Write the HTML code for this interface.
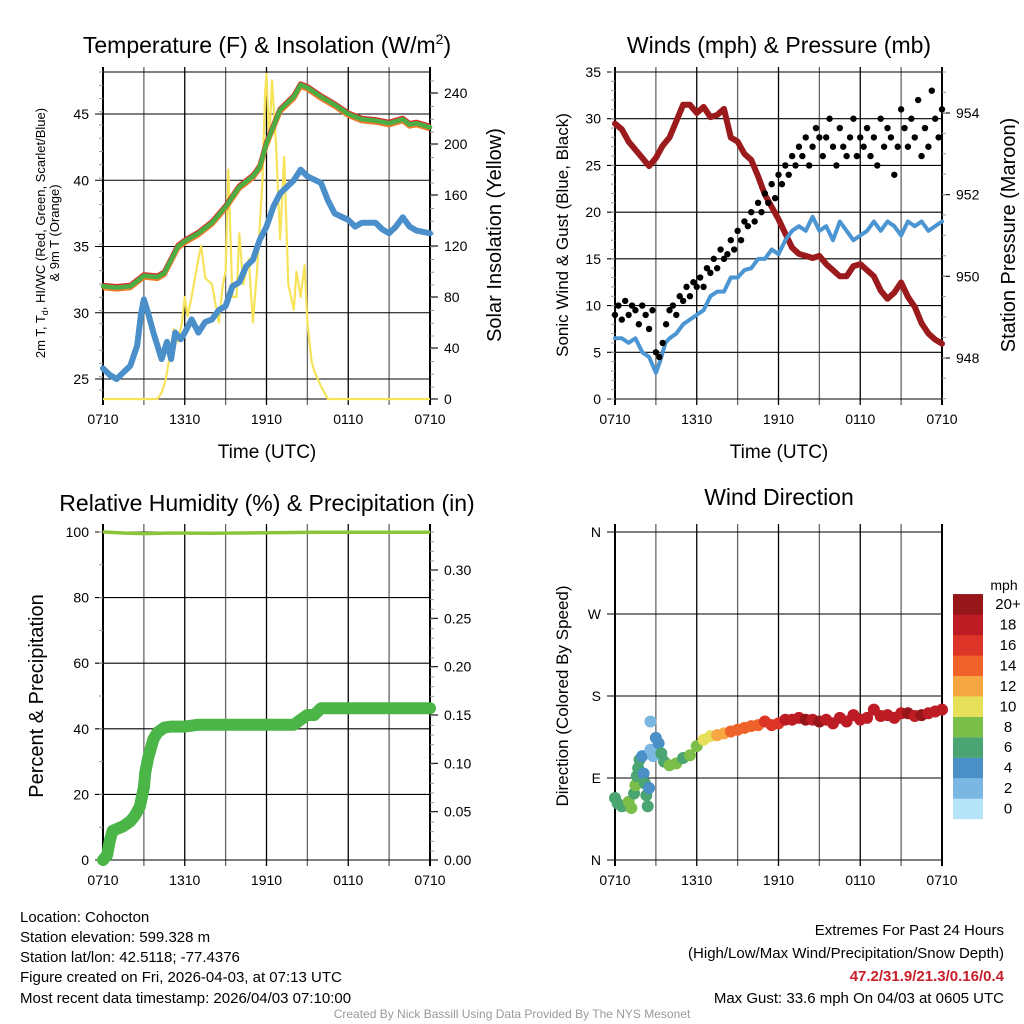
<!DOCTYPE html>
<html><head><meta charset="utf-8">
<style>
body{margin:0;background:#fff;}
svg{display:block;font-family:"Liberation Sans",Arial,sans-serif;}
</style></head>
<body>
<svg id="fig" width="1024" height="1024" viewBox="0 0 1024 1024" xmlns="http://www.w3.org/2000/svg">
<rect width="1024" height="1024" fill="#fff"/>
<g id="texts" font-size="15" fill="#000">
<text x="267" y="53" font-size="23" text-anchor="middle">Temperature (F) &amp; Insolation (W/m<tspan font-size="14" dy="-9">2</tspan><tspan dy="9">)</tspan></text>
<text x="779" y="53" font-size="23" text-anchor="middle">Winds (mph) &amp; Pressure (mb)</text>
<text x="267" y="511" font-size="23" text-anchor="middle">Relative Humidity (%) &amp; Precipitation (in)</text>
<text x="779" y="505" font-size="23" text-anchor="middle">Wind Direction</text>
<text x="267" y="458" font-size="19" text-anchor="middle">Time (UTC)</text>
<text x="779" y="458" font-size="19" text-anchor="middle">Time (UTC)</text>
<text transform="translate(45,233) rotate(-90)" font-size="13" text-anchor="middle">2m T, T<tspan font-size="9" dy="3">d</tspan><tspan dy="-3">, HI/WC (Red, Green, Scarlet/Blue)</tspan></text>
<text transform="translate(59,233) rotate(-90)" font-size="13" text-anchor="middle">&amp; 9m T (Orange)</text>
<text transform="translate(501,235) rotate(-90)" font-size="20" text-anchor="middle">Solar Insolation (Yellow)</text>
<text transform="translate(568,235) rotate(-90)" font-size="17" text-anchor="middle">Sonic Wind &amp; Gust (Blue, Black)</text>
<text transform="translate(1015,235) rotate(-90)" font-size="20" text-anchor="middle">Station Pressure (Maroon)</text>
<text transform="translate(43,696) rotate(-90)" font-size="20" text-anchor="middle">Percent &amp; Precipitation</text>
<text transform="translate(568,696) rotate(-90)" font-size="17" text-anchor="middle">Direction (Colored By Speed)</text>
<text x="1004" y="590" font-size="14" text-anchor="middle">mph</text>
<g>
<text x="20" y="922">Location: Cohocton</text>
<text x="20" y="942">Station elevation: 599.328 m</text>
<text x="20" y="962">Station lat/lon: 42.5118; -77.4376</text>
<text x="20" y="982">Figure created on Fri, 2026-04-03, at 07:13 UTC</text>
<text x="20" y="1003">Most recent data timestamp: 2026/04/03 07:10:00</text>
</g>
<g text-anchor="end">
<text x="1004" y="935">Extremes For Past 24 Hours</text>
<text x="1004" y="958">(High/Low/Max Wind/Precipitation/Snow Depth)</text>
<text x="1004" y="981" fill="#c8202a" font-weight="bold">47.2/31.9/21.3/0.16/0.4</text>
<text x="1004" y="1003">Max Gust: 33.6 mph On 04/03 at 0605 UTC</text>
</g>
<text x="512" y="1018" font-size="12" fill="#999" text-anchor="middle">Created By Nick Bassill Using Data Provided By The NYS Mesonet</text>
</g>
</svg>
<script>
// ---------- DATA ----------
const xTickLabels = ["0710","1310","1910","0110","0710"];
const tempHours = [0,1,2,3,4,4.5,5,5.5,6,7,8,9,10,11,11.5,12,13,14,14.5,15,16,17,18,19,20,21,22,22.5,23,24];
const tempVals  = [32.0,31.9,32.0,32.8,32.7,33.0,34.0,35.0,35.4,36.0,36.8,38.0,39.5,40.3,41.0,42.8,45.3,46.3,47.2,47.0,46.3,45.7,45.0,44.6,44.5,44.3,44.6,44.2,44.3,44.0];
const dewHours = [0,0.5,1,1.5,2,2.5,2.8,3,3.3,3.7,4,4.3,4.7,5,5.3,5.7,6,6.5,7,7.5,8,8.5,9,9.5,10,10.5,11,11.5,12,12.5,13,14,14.5,15,16,16.5,17,18,18.5,19,20,20.5,21,21.5,22,22.5,23,24];
const dewVals  = [25.8,25.3,25.0,25.5,26.0,27.5,30.0,31.0,30.0,28.5,27.5,26.5,27.8,26.5,28.5,28.0,28.5,29.5,28.5,29.3,29.5,30.2,30.5,32.0,32.3,33.5,34.0,35.5,36.5,38.0,39.0,40.0,40.8,40.3,39.8,38.5,37.5,37.0,36.5,36.8,36.8,36.3,36.0,36.5,37.2,36.5,36.2,36.0];
const solarHours = [0,4,4.3,4.6,5,5.2,5.5,5.8,6,6.2,6.5,7,7.2,7.5,8,8.5,8.8,9,9.2,9.5,9.8,10,10.3,10.7,11,11.3,11.7,11.9,12,12.2,12.4,12.7,13,13.3,13.6,14,14.2,14.5,14.8,15,15.3,15.5,16,16.5,24];
const solarVals  = [0,0,5,15,40,55,45,60,80,65,80,110,120,95,90,60,90,100,180,80,80,130,90,110,60,100,170,240,255,200,250,200,125,190,90,70,100,80,105,60,30,22,10,0,0];
const windHours = [0,0.5,1,1.5,2,2.5,3,3.3,3.7,4,4.5,5,5.5,6,6.5,7,7.5,8,8.5,9,9.5,10,10.5,11,11.5,12,12.5,13,13.5,14,14.5,15,15.5,16,16.5,17,17.5,18,18.5,19,19.5,20,20.5,21,21.5,22,22.5,23,24];
const windVals  = [6.5,6.5,6.0,6.5,5.0,4.5,2.8,4.0,6.0,6.5,7.0,8.0,8.5,9.0,9.5,11.0,11.5,11.5,13.0,13.0,13.8,14.0,15.0,15.0,16.0,15.5,17.0,18.0,18.5,18.0,19.5,18.0,18.5,17.0,19.0,18.0,17.0,17.5,18.0,19.0,18.0,19.0,18.5,17.5,19.0,18.5,19.0,18.0,19.0];
const gustVals = [9,10,8.5,10.5,9,10,9.5,8,10,9,7.5,9.5,5,
 4.5,6,8,9.5,10,9,11,10.5,12,11,12.5,12,
 13,12,14,13.5,15,14,16,15,15.5,17,16,18,
 17,19,18.5,20,19,21,20,22,21,23,21.5,24,
 23,25,24,26,25,27,26,28,25,27,29,28,
 26,28,30,27,25,29,27,26,28,30,26,28,
 27,29,26,28,25,30,27,29,28,24,27,31,
 29,27,30,28,32,26,29,27,33,30,28,31];
const presHours = [0,0.5,1,1.5,2,2.5,3,3.5,4,4.5,5,5.5,6,6.5,7,7.5,8,8.5,9,9.5,10,10.5,11,11.5,12,12.5,13,13.5,14,14.5,15,15.5,16,16.5,17,17.5,18,18.5,19,19.5,20,20.5,21,21.5,22,22.5,23,23.5,24];
const presVals  = [953.74,953.6,953.3,953.1,952.9,952.7,952.9,953.2,953.4,953.8,954.2,954.2,954.0,954.15,953.9,953.95,954.1,953.4,953.3,953.0,952.85,952.45,952.0,951.7,951.4,951.05,950.7,950.55,950.5,950.45,950.5,950.3,950.15,950.0,950.0,950.25,950.3,950.15,950.0,949.65,949.45,949.6,949.85,949.5,949.25,948.85,948.6,948.45,948.35];
const rhHours = [0,2,3,5,8,12,16,20,24];
const rhVals  = [100,99.6,99.5,99.7,99.6,99.8,99.9,99.9,99.9];
const precipHours = [0,0.3,0.5,0.7,1,1.5,2,2.3,2.5,2.7,3,3.1,3.3,3.5,3.7,4,4.5,5,6,7,10,14,14.5,15,15.5,16,24];
const precipVals  = [0,0.005,0.02,0.03,0.032,0.035,0.04,0.045,0.05,0.055,0.075,0.09,0.105,0.115,0.125,0.132,0.137,0.138,0.138,0.14,0.14,0.14,0.145,0.15,0.15,0.157,0.157];
const dirHours = [0,0.2,0.5,0.8,1,1.2,1.4,1.5,1.6,1.7,1.8,2,2.1,2.2,2.3,2.4,2.5,2.6,2.6,2.8,3,3.2,3.4,3.6,4,4.5,5,5.5,6,6.5,7,7.5,8,8.5,9,9.5,10,10.5,11,11.5,12,12.5,13,13.5,14,14.5,15,15.5,16,16.5,17,17.5,18,18.5,19,19.5,20,20.5,21,21.5,22,22.5,23,23.5,24];
const dirVals  = [68,62,59,60,64,57,73,82,92,101,110,114,95,84,71,59,79,121,152,114,134,128,117,108,104,106,112,115,125,132,136,137,139,141,143,145,147,148,152,148,150,154,154,156,154,154,152,154,150,156,152,159,154,156,165,158,159,156,161,161,158,159,161,163,165];
const dirSpeeds = [6,6,6,7,8,8,6,8,6,6,6,4,4,6,6,6,4,2,2,2,4,4,6,6,8,8,6,8,8,10,10,12,12,14,14,14,14,14,16,16,16,18,18,18,20,18,20,18,18,18,18,18,18,18,18,18,18,18,18,20,18,20,18,18,18];
const speedColors = ["#b5e3f7","#7ab8e3","#4a8fc6","#4aa572","#7bbf4a","#e6e05a","#f6a742","#ef6229","#dc3427","#bd1c25","#961619"];
const speedLabels = ["0","2","4","6","8","10","12","14","16","18","20+"];
const tempTicks=[25,30,35,40,45], solarTicks=[0,40,80,120,160,200,240];
const windTicks=[0,5,10,15,20,25,30,35], presTicks=[948,950,952,954];
const rhTicks=[0,20,40,60,80,100], precipTicks=[0,0.05,0.1,0.15,0.2,0.25,0.3];
const dirTicks=[0,90,180,270,360], dirLabels=["N","E","S","W","N"];

// ---------- HELPERS ----------
const NS="http://www.w3.org/2000/svg";
const svg=document.getElementById('fig');
function mk(tag,attrs,parent){const e=document.createElementNS(NS,tag);for(const k in attrs)e.setAttribute(k,attrs[k]);(parent||svg).appendChild(e);return e;}
function lin(d0,d1,r0,r1){return v=>r0+(v-d0)*(r1-r0)/(d1-d0);}
function pts(hs,vs,fx,fy){return hs.map((h,i)=>fx(h).toFixed(1)+","+fy(vs[i]).toFixed(1)).join(" ");}

function frame(P,name){
  const g=mk('g',{});
  
  
  for(let h=0;h<=24;h+=3){
    const x=P.fx(h);
    const l=mk('line',{x1:x,x2:x,y1:P.gTop,y2:P.bot+6,stroke:(h%6==0)?'#000':'#666','stroke-width':(h==0||h==24)?2:1.3},g);
    
    
  }
  xTickLabels.forEach((t,i)=>{
    const tx=mk('text',{x:P.fx(i*6),y:P.bot+25,'font-size':14,'text-anchor':'middle'},g);
    tx.textContent=t;
    
    
  });
  return g;
}
function hgrid(g,P,ticks,fy,labels,side){
  ticks.forEach((v,i)=>{
    const y=fy(v);
    if(side==='left'){
      const l=mk('line',{x1:P.x0-8,x2:P.x1,y1:y,y2:y,stroke:'#000','stroke-width':1.1},g);
      
      
      const t=mk('text',{x:P.x0-14,y:y+5,'font-size':14,'text-anchor':'end'},g);
      t.textContent=labels?labels[i]:v;
      
      
    } else {
      const l=mk('line',{x1:P.x1,x2:P.x1+8,y1:y,y2:y,stroke:'#000','stroke-width':1.1},g);
      
      
      const t=mk('text',{x:P.x1+14,y:y+5,'font-size':14,'text-anchor':'start'},g);
      t.textContent=labels?labels[i]:v;
      
      
    }
  });
}
function minor(g,P,y0,y1,step,side){
  for(let y=y0;y<=y1+0.1;y+=step){
    const x=side==='left'?P.x0:P.x1;
    const d=side==='left'?-4:4;
    mk('line',{x1:x,x2:x+d,y1:y,y2:y,stroke:'#999','stroke-width':1},g);
  }
}

// ---------- PANEL 1 ----------
const P1={x0:103,x1:430,gTop:67,bot:399};
P1.fx=lin(0,24,P1.x0,P1.x1);
const t1y=lin(25,45,379,114), s1y=lin(0,240,399,93);
const g1=frame(P1,'temperature');
hgrid(g1,P1,tempTicks,t1y,null,'left');
mk('line',{x1:P1.x0,x2:P1.x1,y1:72,y2:72,stroke:'#000','stroke-width':1.1},g1);
mk('line',{x1:P1.x0,x2:P1.x1,y1:399,y2:399,stroke:'#000','stroke-width':1.1},g1);
hgrid(g1,P1,solarTicks,s1y,null,'right');
minor(g1,P1,72,399,t1y(24)-t1y(25),'left');
minor(g1,P1,81,399,(s1y(0)-s1y(10)),'right');
let e;
e=mk('polyline',{points:pts(solarHours,solarVals,P1.fx,s1y),fill:'none',stroke:'#f7e35a','stroke-width':2.2,'stroke-linejoin':'round'});


e=mk('polyline',{points:pts(dewHours,dewVals,P1.fx,t1y),fill:'none',stroke:'#4a8fc9','stroke-width':6,'stroke-linejoin':'round','stroke-linecap':'round'});


e=mk('polyline',{points:pts(tempHours,tempVals.map(v=>v-0.12),P1.fx,t1y),fill:'none',stroke:'#f07a2a','stroke-width':5,'stroke-linejoin':'round'});


e=mk('polyline',{points:pts(tempHours,tempVals.map(v=>v+0.08),P1.fx,t1y),fill:'none',stroke:'#d8322a','stroke-width':5,'stroke-linejoin':'round'});


e=mk('polyline',{points:pts(tempHours,tempVals,P1.fx,t1y),fill:'none',stroke:'#4aae44','stroke-width':4.5,'stroke-linejoin':'round','stroke-linecap':'round'});



// ---------- PANEL 2 ----------
const P2={x0:615,x1:942,gTop:67,bot:399};
P2.fx=lin(0,24,P2.x0,P2.x1);
const w2y=lin(0,35,399,72), p2y=lin(948,954,358,113);
const g2=frame(P2,'winds');
hgrid(g2,P2,windTicks,w2y,null,'left');
hgrid(g2,P2,presTicks,p2y,null,'right');
minor(g2,P2,72,399,(w2y(0)-w2y(1)),'left');
minor(g2,P2,72,399,(p2y(948)-p2y(948.5)),'right');
e=mk('polyline',{points:pts(presHours,presVals,P2.fx,p2y),fill:'none',stroke:'#9b1a1c','stroke-width':6,'stroke-linejoin':'round','stroke-linecap':'round'});


e=mk('polyline',{points:pts(windHours,windVals,P2.fx,w2y),fill:'none',stroke:'#4a95d2','stroke-width':4,'stroke-linejoin':'round','stroke-linecap':'round'});


const gg=mk('g',{});


gustVals.forEach((v,i)=>{
  const c=mk('circle',{cx:P2.fx(i*0.25),cy:w2y(v),r:3.2,fill:'#000'},gg);
  
  
});

// ---------- PANEL 3 ----------
const P3={x0:103,x1:430,gTop:524,bot:860};
P3.fx=lin(0,24,P3.x0,P3.x1);
const r3y=lin(0,100,860,532), pr3y=lin(0,0.3,860,570);
const g3=frame(P3,'humidity');
hgrid(g3,P3,rhTicks,r3y,null,'left');
hgrid(g3,P3,precipTicks,pr3y,precipTicks.map(v=>v.toFixed(2)),'right');
minor(g3,P3,532,860,(r3y(0)-r3y(10)),'left');
minor(g3,P3,532,860,(pr3y(0)-pr3y(0.01)),'right');
e=mk('polyline',{points:pts(rhHours,rhVals,P3.fx,r3y),fill:'none',stroke:'#8cc43c','stroke-width':3.5,'stroke-linejoin':'round'});


e=mk('polyline',{points:pts(precipHours,precipVals,P3.fx,pr3y),fill:'none',stroke:'#4bb548','stroke-width':12,'stroke-linejoin':'round','stroke-linecap':'round'});



// ---------- PANEL 4 ----------
const P4={x0:615,x1:942,gTop:524,bot:860};
P4.fx=lin(0,24,P4.x0,P4.x1);
const d4y=lin(0,360,860,532);
const g4=frame(P4,'wind-direction');
hgrid(g4,P4,dirTicks,d4y,dirLabels,'left');
const gd=mk('g',{});


dirHours.forEach((h,i)=>{
  const ci=Math.min(10,Math.floor(dirSpeeds[i]/2));
  const c=mk('circle',{cx:P4.fx(h),cy:d4y(dirVals[i]),r:6,fill:speedColors[ci]},gd);
  
  
});
const cb=mk('g',{});


speedColors.forEach((col,i)=>{
  const y=819-(i+1)*20.45;
  const r=mk('rect',{x:953,y:y,width:30,height:20.6,fill:col},cb);
  
  
  const t=mk('text',{x:1008,y:y+15,'font-size':15,'text-anchor':'middle'},cb);
  t.textContent=speedLabels[i];
  
  
});
</script>
</body></html>
